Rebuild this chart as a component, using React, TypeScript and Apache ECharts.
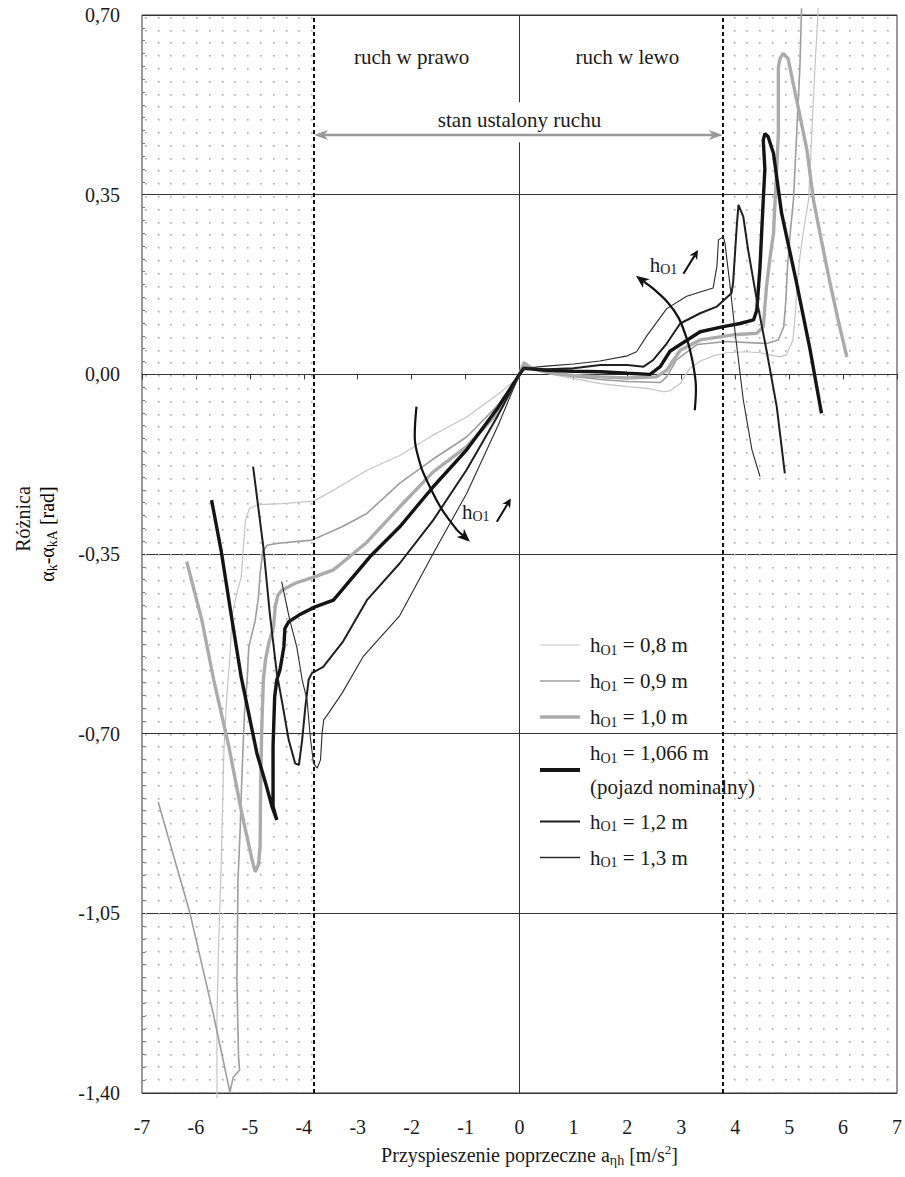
import React, { useEffect, useRef } from 'react';
import * as echarts from 'echarts';

const FONT = '"Liberation Serif", "Times New Roman", Times, serif';

// Axis ranges
const X_MIN = -7;
const X_MAX = 7;
const X_STEP = 1;
const Y_MIN = -1.4;
const Y_MAX = 0.7;
const Y_STEP = 0.35;

// Borders of the steady-state zone [m/s^2]
const STEADY_LEFT = -3.81;
const STEADY_RIGHT = 3.77;

// Series: pivot height h_O1 [m]
const SERIES_NAMES = ['0,8', '0,9', '1,0', '1,066', '1,2', '1,3'];

const H_080 = [
  [-5.61, -1.41], [-5.61, -1.25], [-5.58, -1.115], [-5.54, -0.985], [-5.51, -0.86], [-5.48, -0.73],
  [-5.43, -0.63], [-5.37, -0.55], [-5.33, -0.47], [-5.25, -0.43], [-5.16, -0.395], [-5.12, -0.336],
  [-5.08, -0.283], [-5.01, -0.262], [-4.85, -0.254], [-4.4, -0.252], [-3.82, -0.247], [-3.45, -0.226],
  [-2.83, -0.187], [-2.22, -0.158], [-1.6, -0.118], [-0.98, -0.083], [-0.36, -0.036], [-0.05, -0.008],
  [0, 0], [0.08, 0.018], [0.2, 0.012], [0.6, 0.0], [1.0, -0.008], [1.5, -0.018], [2.0, -0.024],
  [2.4, -0.028], [2.67, -0.034], [2.79, -0.032], [2.98, -0.018], [3.16, 0.012], [3.35, 0.026],
  [3.6, 0.036], [3.84, 0.042], [4.2, 0.044], [4.46, 0.042], [4.83, 0.034], [4.95, 0.038], [5.07, 0.067],
  [5.11, 0.112], [5.15, 0.177], [5.2, 0.229], [5.26, 0.275], [5.36, 0.34], [5.42, 0.469], [5.48, 0.6],
  [5.54, 0.713],
];

const H_090 = [
  [-6.7, -0.833], [-6.11, -1.05], [-5.68, -1.245], [-5.37, -1.398], [-5.31, -1.37], [-5.19, -1.355],
  [-5.21, -1.33], [-5.24, -1.18], [-5.22, -0.985], [-5.18, -0.887], [-5.15, -0.79], [-5.1, -0.66],
  [-5.05, -0.595], [-5.02, -0.531], [-4.9, -0.479], [-4.84, -0.433], [-4.81, -0.388], [-4.76, -0.345],
  [-4.68, -0.333], [-4.47, -0.329], [-3.85, -0.323], [-3.29, -0.297], [-2.83, -0.271], [-2.22, -0.212],
  [-1.6, -0.165], [-0.98, -0.122], [-0.4, -0.06], [0, 0], [0.08, 0.024], [0.25, 0.012], [0.6, 0.002],
  [1.0, -0.004], [1.5, -0.01], [2.0, -0.014], [2.61, -0.016], [2.73, -0.005], [2.91, 0.028],
  [3.29, 0.058], [3.84, 0.064], [4.58, 0.06], [4.8, 0.067], [4.9, 0.093], [4.94, 0.145], [4.97, 0.21],
  [5.02, 0.275], [5.08, 0.34], [5.14, 0.469], [5.2, 0.6], [5.23, 0.713],
];

const H_100 = [
  [-6.17, -0.365], [-5.89, -0.479], [-5.67, -0.595], [-5.39, -0.725], [-5.15, -0.855], [-4.96, -0.945],
  [-4.9, -0.969], [-4.84, -0.955], [-4.81, -0.92], [-4.8, -0.8], [-4.78, -0.693], [-4.75, -0.595],
  [-4.71, -0.556], [-4.65, -0.524], [-4.56, -0.492], [-4.53, -0.453], [-4.48, -0.43], [-4.4, -0.42],
  [-4.16, -0.407], [-3.79, -0.394], [-3.45, -0.381], [-3.08, -0.349], [-2.83, -0.327], [-2.22, -0.258],
  [-1.6, -0.19], [-0.98, -0.141], [-0.36, -0.07], [0, 0], [0.08, 0.022], [0.25, 0.01], [0.6, 0.002],
  [1.0, -0.002], [1.5, -0.005], [2.0, -0.007], [2.54, -0.005], [2.73, 0.008], [2.98, 0.047],
  [3.35, 0.067], [3.96, 0.077], [4.4, 0.08], [4.52, 0.093], [4.58, 0.171], [4.64, 0.223], [4.71, 0.275],
  [4.74, 0.34], [4.77, 0.4], [4.8, 0.469], [4.8, 0.599], [4.83, 0.615], [4.89, 0.625], [4.98, 0.615],
  [5.14, 0.534], [5.33, 0.437], [5.45, 0.34], [5.6, 0.26], [5.76, 0.177], [5.9, 0.11], [6.07, 0.034],
];

const H_1066 = [
  [-5.71, -0.245], [-5.53, -0.345], [-5.35, -0.466], [-5.16, -0.59], [-4.87, -0.738], [-4.69, -0.803],
  [-4.59, -0.842], [-4.5, -0.868], [-4.57, -0.842], [-4.57, -0.725], [-4.54, -0.628], [-4.5, -0.595],
  [-4.44, -0.575], [-4.4, -0.55], [-4.37, -0.531], [-4.35, -0.495], [-4.28, -0.482], [-4.09, -0.469],
  [-3.79, -0.453], [-3.45, -0.44], [-3.29, -0.42], [-2.77, -0.355], [-2.22, -0.297], [-1.6, -0.219],
  [-0.98, -0.147], [-0.4, -0.065], [0, 0], [0.08, 0.012], [0.5, 0.008], [1.0, 0.006], [1.5, 0.005],
  [2.0, 0.002], [2.42, 0.0], [2.61, 0.015], [2.79, 0.045], [3.04, 0.062], [3.35, 0.083], [3.78, 0.093],
  [4.09, 0.099], [4.34, 0.106], [4.4, 0.125], [4.46, 0.21], [4.49, 0.275], [4.52, 0.34], [4.55, 0.4],
  [4.52, 0.456], [4.55, 0.469], [4.61, 0.463], [4.71, 0.43], [4.86, 0.314], [5.14, 0.177],
  [5.39, 0.047], [5.6, -0.076],
];

const H_120 = [
  [-4.94, -0.18], [-4.75, -0.336], [-4.63, -0.466], [-4.5, -0.582], [-4.4, -0.64], [-4.28, -0.712],
  [-4.16, -0.758], [-4.09, -0.761], [-4.03, -0.712], [-3.97, -0.647], [-3.91, -0.595], [-3.85, -0.582],
  [-3.64, -0.57], [-3.27, -0.52], [-2.83, -0.44], [-2.22, -0.368], [-1.6, -0.284], [-0.98, -0.186],
  [-0.4, -0.08], [0, 0], [0.08, 0.01], [0.5, 0.01], [1.0, 0.012], [1.5, 0.018], [2.0, 0.018],
  [2.3, 0.015], [2.48, 0.028], [2.73, 0.06], [2.98, 0.099], [3.35, 0.119], [3.66, 0.132], [3.93, 0.158],
  [3.96, 0.177], [4.0, 0.242], [4.03, 0.29], [4.06, 0.33], [4.15, 0.307], [4.24, 0.242], [4.4, 0.145],
  [4.58, 0.047], [4.77, -0.063], [4.92, -0.193],
];

const H_130 = [
  [-4.41, -0.404], [-4.26, -0.479], [-4.13, -0.531], [-4.03, -0.595], [-3.94, -0.634], [-3.88, -0.706],
  [-3.82, -0.758], [-3.75, -0.767], [-3.69, -0.751], [-3.66, -0.699], [-3.63, -0.673], [-3.54, -0.66],
  [-3.29, -0.621], [-2.9, -0.55], [-2.22, -0.47], [-1.6, -0.349], [-0.98, -0.232], [-0.4, -0.1], [0, 0],
  [0.08, 0.012], [0.5, 0.016], [1.0, 0.02], [1.49, 0.026], [2.0, 0.036], [2.17, 0.044], [2.36, 0.075],
  [2.73, 0.128], [3.1, 0.152], [3.59, 0.168], [3.66, 0.21], [3.69, 0.262], [3.78, 0.268], [3.81, 0.255],
  [3.9, 0.177], [4.0, 0.08], [4.15, -0.05], [4.31, -0.147], [4.46, -0.199],
];

const SERIES_DATA = [H_080, H_090, H_100, H_1066, H_120, H_130];

// Line appearance per series (same order as SERIES_NAMES)
const LINE_COLORS = ['#c4c4c4', '#9d9d9d', '#ababab', '#141414', '#1f1f1f', '#2a2a2a'];
const LINE_WIDTHS = [1.2, 1.6, 3.4, 3.4, 2.0, 1.1];
const LEGEND_WIDTHS = [1.2, 1.6, 3.4, 4.0, 2.2, 1.3];

// Annotations, in data coordinates
const REGION_LABEL_Y = 0.618;
const STEADY_LABEL_Y = 0.495;
const STEADY_ARROW_Y = 0.466;
const ZERO_LINE_GAP = [0.452, 0.53];
const RIGHT_TREND_ARC = [[3.25, -0.07], [3.27, -0.02], [3.2, 0.03], [3.1, 0.07], [2.95, 0.11], [2.75, 0.14], [2.5, 0.165], [2.16, 0.192]];
const LEFT_TREND_ARC = [[-1.91, -0.063], [-1.94, -0.128], [-1.86, -0.168], [-1.78, -0.193], [-1.47, -0.258], [-1.16, -0.303], [-0.92, -0.326]];
const RIGHT_SMALL_ARROW = [[3.04, 0.196], [3.31, 0.242]];
const LEFT_SMALL_ARROW = [[-0.42, -0.287], [-0.16, -0.242]];
const RIGHT_H_LABEL = [2.67, 0.213];
const LEFT_H_LABEL = [-0.81, -0.268];

function makeDotPattern(): HTMLCanvasElement {
  const c = document.createElement('canvas');
  c.width = 64;
  c.height = 64;
  const ctx = c.getContext('2d')!;
  ctx.fillStyle = '#a9a9a9';
  for (let i = 0; i < 5; i++) {
    for (let j = 0; j < 5; j++) {
      ctx.fillRect(Math.round(i * 12.8) + 4, Math.round(j * 12.8) + 4, 1.6, 1.6);
    }
  }
  return c;
}

function arrowHead(tip: number[], from: number[], len: number, half: number): number[][] {
  const dx = tip[0] - from[0];
  const dy = tip[1] - from[1];
  const l = Math.hypot(dx, dy) || 1;
  const ux = dx / l;
  const uy = dy / l;
  const nx = -uy;
  const ny = ux;
  const bx = tip[0] - ux * len;
  const by = tip[1] - uy * len;
  const notch = [tip[0] - ux * len * 0.72, tip[1] - uy * len * 0.72];
  return [tip, [bx + nx * half, by + ny * half], notch, [bx - nx * half, by - ny * half]];
}

const hRich = (size: number) => ({
  h: { fontFamily: FONT, fontSize: size, color: '#1a1a1a' },
  s: { fontFamily: FONT, fontSize: Math.round(size * 0.68), color: '#1a1a1a', padding: [10, 0, 0, 0] },
});

export default function App() {
  const ref = useRef<HTMLDivElement>(null);

  useEffect(() => {
    document.body.style.margin = '0';
    if (!ref.current) return;
    const chart = echarts.init(ref.current, null, { renderer: 'svg' });
    const dots = makeDotPattern();

    const lineSeries = SERIES_DATA.map((d, i) => ({
      name: SERIES_NAMES[i],
      type: 'line',
      data: d,
      symbol: 'none',
      showSymbol: false,
      clip: false,
      silent: true,
      emphasis: { disabled: true },
      lineStyle: { color: LINE_COLORS[i], width: LINE_WIDTHS[i] },
      itemStyle: { color: LINE_COLORS[i] },
      z: 3 + i,
    }));

    const frameSeries = {
      name: 'frame',
      type: 'line',
      data: [],
      silent: true,
      z: 2,
      markArea: {
        silent: true,
        itemStyle: { color: { image: dots, repeat: 'repeat' } },
        data: [
          [{ xAxis: X_MIN }, { xAxis: STEADY_LEFT }],
          [{ xAxis: STEADY_RIGHT }, { xAxis: X_MAX }],
        ],
      },
      markLine: {
        silent: true,
        symbol: 'none',
        label: { show: false },
        lineStyle: { color: '#333', width: 1, type: 'solid' },
        data: [
          { xAxis: STEADY_LEFT, lineStyle: { color: '#111', width: 2, type: [4, 3] } },
          { xAxis: STEADY_RIGHT, lineStyle: { color: '#111', width: 2, type: [4, 3] } },
          [{ coord: [0, Y_MAX] }, { coord: [0, ZERO_LINE_GAP[1]] }],
          [{ coord: [0, ZERO_LINE_GAP[0]] }, { coord: [0, Y_MIN] }],
        ],
      },
    };

    chart.setOption({
      animation: false,
      grid: { left: 142, top: 15, right: 8, bottom: 84, show: true, borderColor: '#333', borderWidth: 1 },
      legend: {
        data: SERIES_NAMES.map((n, i) => ({ name: n, lineStyle: { width: LEGEND_WIDTHS[i] } })),
        orient: 'vertical',
        left: 533,
        top: 628,
        itemWidth: 40,
        itemHeight: 14,
        itemGap: 12,
        selectedMode: false,
        itemStyle: { opacity: 0 },
        formatter: (name: string) =>
          name === '1,066'
            ? `{h|h}{s|O1}{t| = ${name} m}\n{n|(pojazd nominalny)}`
            : `{h|h}{s|O1}{t| = ${name} m}`,
        textStyle: {
          fontFamily: FONT,
          fontSize: 21,
          color: '#1a1a1a',
          padding: [0, 0, 0, 5],
          rich: {
            h: { fontFamily: FONT, fontSize: 21, lineHeight: 34 },
            s: { fontFamily: FONT, fontSize: 14, lineHeight: 34, padding: [10, 0, 0, 0] },
            t: { fontFamily: FONT, fontSize: 21, lineHeight: 34 },
            n: { fontFamily: FONT, fontSize: 21, lineHeight: 34, backgroundColor: '#ffffff' },
          },
        },
      },
      xAxis: [
        {
          type: 'value',
          min: X_MIN,
          max: X_MAX,
          interval: X_STEP,
          position: 'bottom',
          axisLine: { show: false, onZero: false },
          axisTick: { show: false },
          splitLine: { show: false },
          axisLabel: { fontFamily: FONT, fontSize: 20, color: '#1a1a1a', margin: 24 },
          name: '{a|Przyspieszenie poprzeczne a}{s|ηh}{a| [m/s}{p|2}{a|]}',
          nameLocation: 'middle',
          nameGap: 49,
          nameTextStyle: {
            padding: [0, 0, 0, 20],
            rich: {
              a: { fontFamily: FONT, fontSize: 20, color: '#1a1a1a', lineHeight: 26 },
              s: { fontFamily: FONT, fontSize: 14, color: '#1a1a1a', lineHeight: 26, padding: [10, 0, 0, 0] },
              p: { fontFamily: FONT, fontSize: 13, color: '#1a1a1a', lineHeight: 26, padding: [0, 0, 12, 0] },
            },
          },
        },
        {
          type: 'value',
          min: X_MIN,
          max: X_MAX,
          interval: X_STEP,
          position: 'bottom',
          axisLine: { show: true, onZero: true, lineStyle: { color: '#333', width: 1 } },
          axisTick: { show: true, length: 5, lineStyle: { color: '#333' } },
          axisLabel: { show: false },
          splitLine: { show: false },
        },
      ],
      yAxis: {
        type: 'value',
        min: Y_MIN,
        max: Y_MAX,
        interval: Y_STEP,
        axisLine: { show: false, onZero: false },
        axisTick: { show: false, inside: true },
        minorTick: { show: true, splitNumber: 14, length: 3, lineStyle: { color: '#777' } },
        splitLine: { show: true, lineStyle: { color: '#333', width: 1 } },
        axisLabel: {
          fontFamily: FONT,
          fontSize: 20,
          color: '#1a1a1a',
          margin: 22,
          formatter: (v: number) => v.toFixed(2).replace('.', ','),
        },
      },
      series: [frameSeries, ...lineSeries],
    });

    const P = (p: number[]) => chart.convertToPixel({ gridIndex: 0 }, p) as number[];
    const g: any[] = [];

    const text = (pos: number[], s: string, extra: any = {}) => ({
      type: 'text',
      x: pos[0],
      y: pos[1],
      z: 20,
      style: { text: s, fontFamily: FONT, fontSize: 21, fill: '#1a1a1a', align: 'center', verticalAlign: 'middle', ...extra },
    });

    g.push(text(P([-2, REGION_LABEL_Y]), 'ruch w prawo'));
    g.push(text(P([2, REGION_LABEL_Y]), 'ruch w lewo'));
    g.push(text(P([0, STEADY_LABEL_Y]), 'stan ustalony ruchu'));

    // double arrow of the steady-state zone
    const aL = P([STEADY_LEFT, STEADY_ARROW_Y]);
    const aR = P([STEADY_RIGHT, STEADY_ARROW_Y]);
    g.push({
      type: 'line', z: 20,
      shape: { x1: aL[0] + 10, y1: aL[1], x2: aR[0] - 10, y2: aR[1] },
      style: { stroke: '#999', lineWidth: 2.5 },
    });
    g.push({ type: 'polygon', z: 20, shape: { points: arrowHead(aL, aR, 14, 5) }, style: { fill: '#999' } });
    g.push({ type: 'polygon', z: 20, shape: { points: arrowHead(aR, aL, 14, 5) }, style: { fill: '#999' } });

    // curved trend arrows
    const arc = (pts: number[][]) => {
      const px = pts.map(P);
      const tip = px[px.length - 1];
      const prev = px[px.length - 2];
      const head = arrowHead(tip, prev, 13, 5.5);
      const linePts = px.slice(0, -1).concat([head[2]]);
      g.push({ type: 'polyline', z: 20, shape: { points: linePts, smooth: 0.35 }, style: { stroke: '#111', lineWidth: 2.2, fill: null } });
      g.push({ type: 'polygon', z: 20, shape: { points: head }, style: { fill: '#111' } });
    };
    arc(RIGHT_TREND_ARC);
    arc(LEFT_TREND_ARC);

    const small = (pts: number[][]) => {
      const a = P(pts[0]);
      const b = P(pts[1]);
      const head = arrowHead(b, a, 9, 4.5);
      g.push({ type: 'line', z: 20, shape: { x1: a[0], y1: a[1], x2: head[2][0], y2: head[2][1] }, style: { stroke: '#111', lineWidth: 2 } });
      g.push({ type: 'polygon', z: 20, shape: { points: head }, style: { fill: '#111' } });
    };
    small(RIGHT_SMALL_ARROW);
    small(LEFT_SMALL_ARROW);

    g.push(text(P(RIGHT_H_LABEL), '{h|h}{s|O1}', { rich: hRich(21) }));
    g.push(text(P(LEFT_H_LABEL), '{h|h}{s|O1}', { rich: hRich(21) }));

    // y-axis title, two rotated lines
    g.push({
      type: 'text', x: 23, y: 519, rotation: Math.PI / 2, z: 20,
      style: { text: 'Różnica', fontFamily: FONT, fontSize: 20, fill: '#1a1a1a', align: 'center', verticalAlign: 'middle' },
    });
    g.push({
      type: 'text', x: 47, y: 534, rotation: Math.PI / 2, z: 20,
      style: {
        text: '{a|α}{s|k}{a|-α}{s|kA}{a| [rad]}',
        align: 'center',
        verticalAlign: 'middle',
        rich: {
          a: { fontFamily: FONT, fontSize: 20, color: '#1a1a1a', lineHeight: 26 },
          s: { fontFamily: FONT, fontSize: 14, color: '#1a1a1a', lineHeight: 26, padding: [10, 0, 0, 0] },
        },
      },
    });

    chart.setOption({ graphic: g });

    return () => chart.dispose();
  }, []);

  return <div ref={ref} style={{ width: 905, height: 1177 }} />;
}
